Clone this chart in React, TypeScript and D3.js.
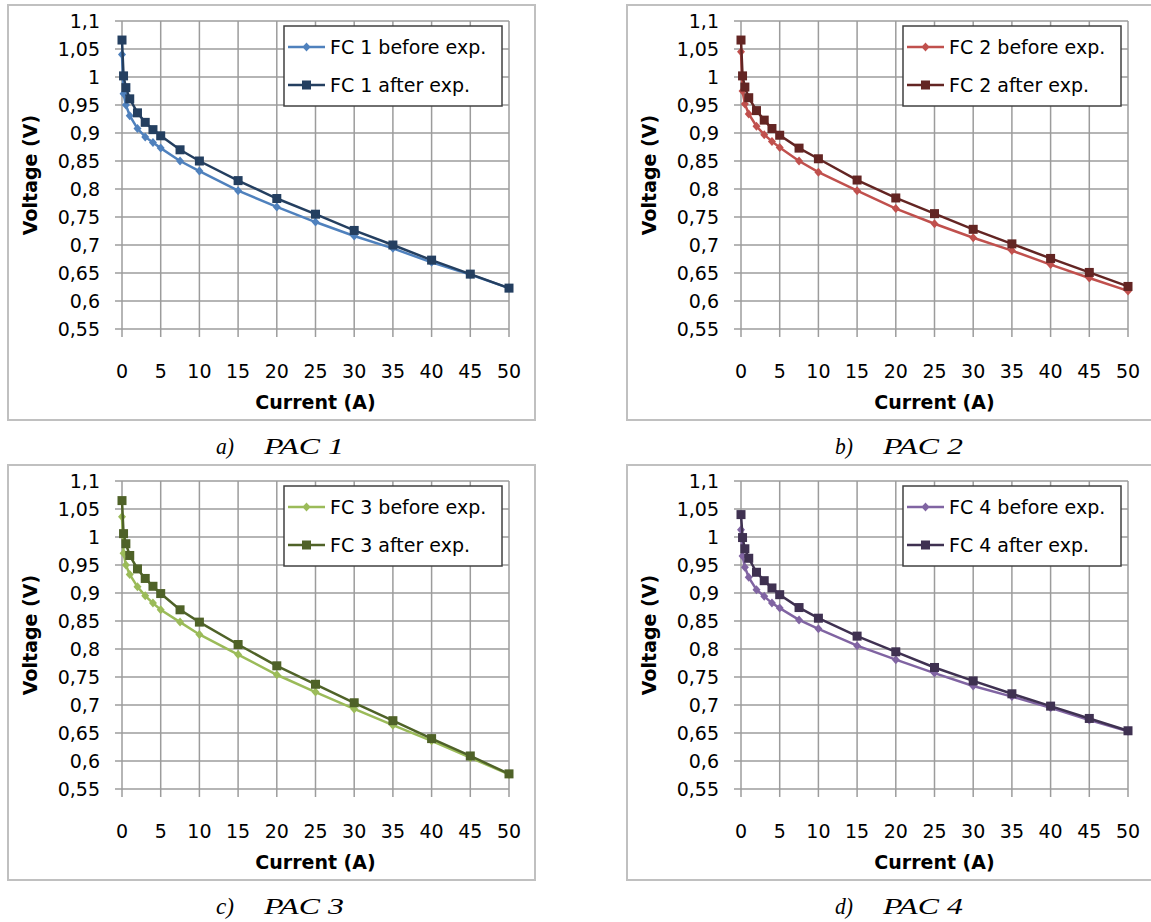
import React from "react";
import * as d3 from "d3";

const currents = [0, 0.2, 0.5, 1, 2, 3, 4, 5, 7.5, 10, 15, 20, 25, 30, 35, 40, 45, 50];

const fc1Before = [1.040, 0.970, 0.950, 0.931, 0.908, 0.893, 0.883, 0.873, 0.850, 0.832, 0.797, 0.768, 0.741, 0.716, 0.694, 0.669, 0.647, 0.623];
const fc1After = [1.066, 1.002, 0.981, 0.961, 0.936, 0.919, 0.906, 0.895, 0.870, 0.850, 0.815, 0.783, 0.755, 0.726, 0.700, 0.673, 0.648, 0.623];
const fc2Before = [1.045, 0.975, 0.952, 0.934, 0.912, 0.897, 0.885, 0.874, 0.850, 0.830, 0.797, 0.765, 0.738, 0.713, 0.690, 0.665, 0.641, 0.618];
const fc2After = [1.066, 1.002, 0.982, 0.963, 0.940, 0.923, 0.908, 0.896, 0.873, 0.854, 0.816, 0.784, 0.756, 0.728, 0.702, 0.676, 0.651, 0.626];
const fc3Before = [1.036, 0.971, 0.950, 0.933, 0.911, 0.895, 0.882, 0.870, 0.848, 0.826, 0.790, 0.754, 0.723, 0.693, 0.664, 0.636, 0.606, 0.576];
const fc3After = [1.065, 1.006, 0.988, 0.967, 0.943, 0.926, 0.912, 0.899, 0.870, 0.848, 0.808, 0.770, 0.737, 0.704, 0.672, 0.640, 0.609, 0.577];
const fc4Before = [1.013, 0.966, 0.946, 0.928, 0.906, 0.894, 0.882, 0.873, 0.852, 0.836, 0.806, 0.781, 0.757, 0.734, 0.715, 0.695, 0.673, 0.653];
const fc4After = [1.040, 0.999, 0.979, 0.962, 0.937, 0.922, 0.909, 0.897, 0.874, 0.855, 0.823, 0.795, 0.767, 0.743, 0.720, 0.698, 0.676, 0.654];

const xTicks = [0, 5, 10, 15, 20, 25, 30, 35, 40, 45, 50];
const yTicks = [0.55, 0.6, 0.65, 0.7, 0.75, 0.8, 0.85, 0.9, 0.95, 1, 1.05, 1.1];

const panels = [
  { letter: "a)", title: "PAC 1", before: fc1Before, after: fc1After, nameBefore: "FC 1 before exp.", nameAfter: "FC 1 after exp.", cBefore: "#4f81bd", cAfter: "#243f60", x: 8, y: 5 },
  { letter: "b)", title: "PAC 2", before: fc2Before, after: fc2After, nameBefore: "FC 2 before exp.", nameAfter: "FC 2 after exp.", cBefore: "#c0504d", cAfter: "#632523", x: 627, y: 5 },
  { letter: "c)", title: "PAC 3", before: fc3Before, after: fc3After, nameBefore: "FC 3 before exp.", nameAfter: "FC 3 after exp.", cBefore: "#9bbb59", cAfter: "#4f6228", x: 8, y: 465 },
  { letter: "d)", title: "PAC 4", before: fc4Before, after: fc4After, nameBefore: "FC 4 before exp.", nameAfter: "FC 4 after exp.", cBefore: "#8064a2", cAfter: "#3f3151", x: 627, y: 465 },
];

const FONT = "'DejaVu Sans', sans-serif";
const fmtY = (v: number) => String(+v.toFixed(2)).replace(".", ",");

const diamondPath = (cx: number, cy: number) => `M${cx},${cy - 4.5}L${cx + 4},${cy}L${cx},${cy + 4.5}L${cx - 4},${cy}Z`;

function Panel({ p }: { p: (typeof panels)[number] }) {
  const x = d3.scaleLinear().domain([0, 50]).range([114, 501]);
  const y = d3.scaleLinear().domain([0.55, 1.1]).range([324, 16]);
  const line = d3.line<number>().x((_, i) => x(currents[i])).y((d) => y(d));
  const grid = "#9c9c9c";
  return (
    <g transform={`translate(${p.x},${p.y})`}>
      <rect x={0} y={0} width={527} height={415} fill="#fff" stroke="#c0c0c0" strokeWidth={2} />
      {yTicks.map((t) => (
        <line key={"h" + t} x1={x(0) - 7} x2={x(50)} y1={y(t)} y2={y(t)} stroke={grid} strokeWidth={1.5} />
      ))}
      {xTicks.map((t) => (
        <line key={"v" + t} x1={x(t)} x2={x(t)} y1={y(1.1)} y2={y(0.55) + 8} stroke={grid} strokeWidth={1.5} />
      ))}
      {yTicks.map((t) => (
        <text key={"yl" + t} x={x(0) - 22} y={y(t)} dy="0.35em" textAnchor="end" fontFamily={FONT} fontSize={19} fill="#000">
          {fmtY(t)}
        </text>
      ))}
      {xTicks.map((t) => (
        <text key={"xl" + t} x={x(t)} y={366} dy="0.35em" textAnchor="middle" fontFamily={FONT} fontSize={19} fill="#000">
          {t}
        </text>
      ))}
      <text x={(x(0) + x(50)) / 2} y={397} dy="0.35em" textAnchor="middle" fontFamily={FONT} fontSize={19} fontWeight="bold">
        Current (A)
      </text>
      <text transform={`translate(22,${(y(0.55) + y(1.1)) / 2}) rotate(-90)`} dy="0.35em" textAnchor="middle" fontFamily={FONT} fontSize={19} fontWeight="bold">
        Voltage (V)
      </text>
      <path d={line(p.before) || ""} fill="none" stroke={p.cBefore} strokeWidth={2.5} />
      {p.before.map((v, i) => (
        <path key={"b" + i} d={diamondPath(x(currents[i]), y(v))} fill={p.cBefore} />
      ))}
      <path d={line(p.after) || ""} fill="none" stroke={p.cAfter} strokeWidth={2.5} />
      {p.after.map((v, i) => (
        <rect key={"a" + i} x={x(currents[i]) - 4.5} y={y(v) - 4.5} width={9} height={9} fill={p.cAfter} />
      ))}
      <g>
        <rect x={276} y={21} width={218} height={80} fill="#fff" stroke="#404040" strokeWidth={1.5} />
        <line x1={280} x2={317} y1={42} y2={42} stroke={p.cBefore} strokeWidth={2.5} />
        <path d={diamondPath(298.5, 42)} fill={p.cBefore} />
        <text x={322} y={42} dy="0.35em" fontFamily={FONT} fontSize={19}>{p.nameBefore}</text>
        <line x1={280} x2={317} y1={80} y2={80} stroke={p.cAfter} strokeWidth={2.5} />
        <rect x={294} y={75.5} width={9} height={9} fill={p.cAfter} />
        <text x={322} y={80} dy="0.35em" fontFamily={FONT} fontSize={19}>{p.nameAfter}</text>
      </g>
      <text x={208} y={441} dy="0.33em" fontFamily="'Liberation Serif', serif" fontStyle="italic" fontSize={23} textLength={18} lengthAdjust="spacingAndGlyphs">
        {p.letter}
      </text>
      <text x={256} y={441} dy="0.33em" fontFamily="'Liberation Serif', serif" fontStyle="italic" fontSize={23} textLength={80} lengthAdjust="spacingAndGlyphs">
        {p.title}
      </text>
    </g>
  );
}

export default function App() {
  return (
    <svg width={1151} height={922} style={{ position: "absolute", left: 0, top: 0, background: "#fff" }}>
      <rect x={0} y={0} width={1151} height={922} fill="#fff" />
      {panels.map((p) => (
        <Panel key={p.title} p={p} />
      ))}
    </svg>
  );
}
